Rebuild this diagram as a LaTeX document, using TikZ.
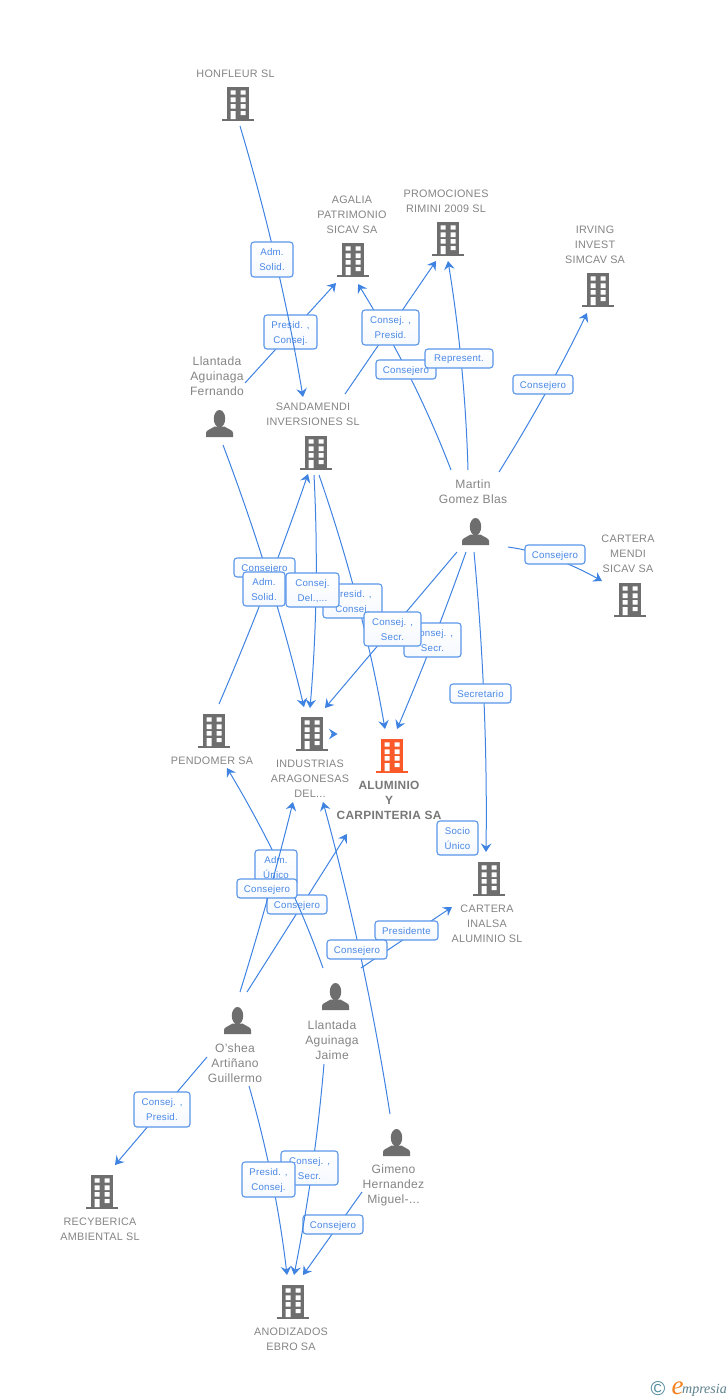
\documentclass[tikz,border=0pt]{standalone}
\usepackage{fontspec}
\setmainfont[LetterSpace=2.5]{Liberation Sans}
\newfontfamily\logofont{Liberation Serif}
\usetikzlibrary{arrows.meta,calc}
\definecolor{edgeblue}{HTML}{3F83E2}
\definecolor{boxblue}{HTML}{5A96EA}
\definecolor{labblue}{HTML}{4A88E6}
\definecolor{txtgrey}{HTML}{858585}
\definecolor{icongrey}{HTML}{6E6E6E}
\definecolor{mainorange}{HTML}{FA5A2A}
\definecolor{logoteal}{HTML}{4F8A9B}
\definecolor{logotext}{HTML}{5A7F8A}
\definecolor{logoorange}{HTML}{F58220}
\tikzset{
  edge/.style={draw=edgeblue,line width=1pt,-{Stealth[length=8.5pt,width=10.5pt,inset=3pt]}},
  lab/.style={draw=boxblue,line width=1.1pt,rounded corners=3pt,top color=white,bottom color=white!95!edgeblue,
    text=labblue,font=\fontsize{9.7}{15}\selectfont,align=center,inner sep=0pt,text depth=0pt},
  ent/.style={text=txtgrey,font=\fontsize{10.8}{15}\selectfont,align=center,inner sep=0pt,yshift=-0.8pt},
  perslab/.style={text=txtgrey,font=\fontsize{12.1}{15}\selectfont,align=center,inner sep=0pt,yshift=-0.8pt},
  entmain/.style={text=txtgrey!90!black,font=\fontsize{11.9}{15}\selectfont\bfseries,align=center,inner sep=0pt,yshift=-0.8pt},
  iconbox/.style={inner sep=0pt,minimum width=32pt,minimum height=34pt},
}
% #1 name, #2 left, #3 top, #4 right, #5 bottom, #6 text
\newcommand{\ebox}[6]{\node[lab,minimum width={(#4-#2)*1pt},minimum height={(#5-#3)*1pt}] (#1) at ({(#2+#4)/2},{(#3+#5)/2}) {#6};}
% curved connector: #1 start, #2 quadratic control, #3 end
\newcommand{\bowedge}[3]{\draw[edge] (#1) .. controls ($(#1)!.667!(#2)$) and ($(#3)!.667!(#2)$) .. (#3);}
% #1 name, #2 centre x, #3 top y, #4 colour
\newcommand{\building}[4]{%
  \node[iconbox] (#1) at (#2,#3+17) {};
  \begin{scope}[shift={(#2,#3)}]
    \fill[#4] (-11,0) rectangle (11,32.5);
    \fill[#4] (-16,32) rectangle (16,34);
    \fill[white] (-7.5,3.3) rectangle (-2.5,7.7) (2.5,3.3) rectangle (7.5,7.7)
      (-7.5,10.3) rectangle (-2.5,15) (2.5,10.3) rectangle (7.5,15)
      (-7.5,17) rectangle (-2.5,21.7) (2.5,17) rectangle (7.5,21.7)
      (-7.5,24) rectangle (-2.5,32) (2.5,24) rectangle (7.5,28);
  \end{scope}}
% #1 name, #2 centre x, #3 top y
\newcommand{\person}[3]{%
  \node[inner sep=0pt,minimum width=27pt,minimum height=27pt] (#1) at (#2,#3+13.5) {};
  \begin{scope}[shift={(#2,#3)}]
    \fill[icongrey] (0,8.7) ellipse (5.7 and 8.7);
    \fill[icongrey] (-13.5,27) -- (-13.5,23) .. controls (-13.5,20) and (-9,19.5) .. (-5,16.5)
      -- (5,16.5) .. controls (9,19.5) and (13.5,20) .. (13.5,23) -- (13.5,27) -- cycle;
  \end{scope}}
\begin{document}
\begin{tikzpicture}[x=1pt,y=-1pt]
\useasboundingbox (0,0) rectangle (728,1400);
\fill[white] (0,0) rectangle (728,1400);

% entity icons
\building{honfleur}{238}{87}{icongrey}
\building{agalia}{353}{243}{icongrey}
\building{promociones}{448}{222}{icongrey}
\building{irving}{598}{273}{icongrey}
\building{sandamendi}{316}{436}{icongrey}
\building{mendi}{630}{583}{icongrey}
\building{pendomer}{214}{714}{icongrey}
\building{industrias}{312}{717}{icongrey}
\building{aluminio}{392}{739}{mainorange}
\building{inalsa}{489}{862}{icongrey}
\building{recyberica}{102}{1175}{icongrey}
\building{anodizados}{293}{1285}{icongrey}
\person{fernando}{219.5}{410}
\person{martin}{475.5}{518}
\person{jaime}{335.5}{983}
\person{oshea}{237.5}{1007}
\person{gimeno}{396.5}{1129}

% entity labels
\node[ent] (honfleurT) at (235.5,73) {HONFLEUR SL};
\node[ent] (agaliaT) at (352,214) {AGALIA\\PATRIMONIO\\SICAV SA};
\node[ent] (promocionesT) at (446,200.5) {PROMOCIONES\\RIMINI 2009 SL};
\node[ent] (irvingT) at (595,244) {IRVING\\INVEST\\SIMCAV SA};
\node[perslab] (fernandoT) at (217,375) {Llantada\\Aguinaga\\Fernando};
\node[ent] (sandamendiT) at (313,413.5) {SANDAMENDI\\INVERSIONES SL};
\node[perslab] (martinT) at (473,490.5) {Martin\\Gomez Blas};
\node[ent] (mendiT) at (628,553) {CARTERA\\MENDI\\SICAV SA};
\node[ent] (pendomerT) at (212,760) {PENDOMER SA};
\node[ent] (industriasT) at (310,778) {INDUSTRIAS\\ARAGONESAS\\DEL...};
\node[entmain] (aluminioT) at (389,800) {ALUMINIO\\Y\\CARPINTERIA SA};
\node[ent] (inalsaT) at (487,923) {CARTERA\\INALSA\\ALUMINIO SL};
\node[perslab] (jaimeT) at (332,1039) {Llantada\\Aguinaga\\Jaime};
\node[perslab] (osheaT) at (235,1062) {O'shea\\Artiñano\\Guillermo};
\node[perslab] (gimenoT) at (393.5,1185) {Gimeno\\Hernandez\\Miguel-...};
\node[ent] (recybericaT) at (100,1228.5) {RECYBERICA\\AMBIENTAL SL};
\node[ent] (anodizadosT) at (291,1338.5) {ANODIZADOS\\EBRO SA};

% connector end points
\coordinate (honfleurOut) at (240,126);
\coordinate (sandamendiIn1) at (303,397);
\coordinate (fernandoOut1) at (245,383);
\coordinate (agaliaIn1) at (336,283);
\coordinate (sandamendiOut1) at (345,394);
\coordinate (promocionesIn1) at (436,261);
\coordinate (martinOut1) at (451,470);
\coordinate (agaliaIn2) at (358,284);
\coordinate (martinOut2) at (468,470);
\coordinate (promocionesIn2) at (448,261);
\coordinate (martinOut3) at (499,472);
\coordinate (irvingIn) at (587,313);
\coordinate (martinOut4) at (508,547);
\coordinate (mendiIn) at (602,581);
\coordinate (martinOut5) at (466,552);
\coordinate (aluminioIn1) at (397,729);
\coordinate (martinOut6) at (457,552);
\coordinate (industriasIn1) at (325,708);
\coordinate (martinOut7) at (474,552);
\coordinate (inalsaIn1) at (486,852);
\coordinate (sandamendiOut2) at (319,475);
\coordinate (aluminioIn2) at (385,729);
\coordinate (sandamendiOut3) at (314,475);
\coordinate (industriasIn2) at (310,708);
\coordinate (fernandoOut2) at (223,445);
\coordinate (industriasIn3) at (304,707);
\coordinate (pendomerOut) at (219,704);
\coordinate (sandamendiIn2) at (308,474);
\coordinate (jaimeOut1) at (323,968);
\coordinate (pendomerIn) at (227,768);
\coordinate (osheaOut1) at (240,992);
\coordinate (industriasIn4) at (293,802);
\coordinate (osheaOut2) at (247,992);
\coordinate (aluminioIn3) at (347,834);
\coordinate (gimenoOut1) at (390,1114);
\coordinate (industriasIn5) at (323,802);
\coordinate (jaimeOut2) at (361,968);
\coordinate (inalsaIn2) at (452,907);
\coordinate (osheaOut3) at (207,1057);
\coordinate (recybericaIn) at (115,1165);
\coordinate (osheaOut4) at (249,1086);
\coordinate (anodizadosIn1) at (287,1275);
\coordinate (jaimeOut3) at (324,1064);
\coordinate (anodizadosIn2) at (294,1275);
\coordinate (gimenoOut2) at (362,1192);
\coordinate (anodizadosIn3) at (303,1275);
\coordinate (selfA) at (331,734);
\coordinate (selfB) at (337.5,734);

% upper group
\draw[edge] (fernandoOut1) -- (agaliaIn1);
\ebox{lPresidA}{264}{315}{317}{349}{Presid. ,\\Consej.}
\bowedge{honfleurOut}{280,260}{sandamendiIn1}
\ebox{lAdmA}{251}{242}{293}{277}{Adm.\\Solid.}
\draw[edge] (sandamendiOut1) -- (promocionesIn1);
\bowedge{martinOut1}{415.5,377}{agaliaIn2}
\ebox{lConsPresid}{362}{310}{419}{345}{Consej. ,\\Presid.}
\ebox{lConsejeroA}{376}{360}{436}{379}{Consejero}
\bowedge{martinOut2}{465,365}{promocionesIn2}
\ebox{lRepresent}{425}{349}{493}{368}{Represent.}
\bowedge{martinOut3}{549,392}{irvingIn}
\ebox{lConsejeroB}{513}{375}{573}{394}{Consejero}
\bowedge{martinOut4}{552,553}{mendiIn}
\ebox{lConsejeroC}{525}{545}{585}{564}{Consejero}

% middle group
\bowedge{martinOut7}{488,702}{inalsaIn1}
\ebox{lSecretario}{450}{684}{511}{703}{Secretario}
\ebox{lSocio}{437}{821}{478}{855}{Socio\\Único}
\bowedge{sandamendiOut2}{363,602}{aluminioIn2}
\bowedge{sandamendiOut3}{320,591}{industriasIn2}
\bowedge{fernandoOut2}{272.5,576}{industriasIn3}
\bowedge{pendomerOut}{268.5,589}{sandamendiIn2}
\bowedge{martinOut5}{435,640}{aluminioIn1}
\draw[edge] (martinOut6) -- (industriasIn1);
\ebox{lConsejeroD}{234}{558}{295}{577}{Consejero}
\ebox{lAdmB}{243}{572}{285}{606}{Adm.\\Solid.}
\ebox{lPresidB}{323}{584}{382}{618}{Presid. ,\\Consej.}
\ebox{lConsDel}{286}{573}{339}{607}{Consej.\\Del.,...}
\ebox{lSecrB}{404}{623}{461}{657}{Consej. ,\\Secr.}
\ebox{lSecrA}{364}{612}{421}{646}{Consej. ,\\Secr.}
\draw[edge] (selfA) -- (selfB);

% lower group
\draw[edge] (osheaOut2) -- (aluminioIn3);
\ebox{lConsejeroE}{267}{895}{327}{914}{Consejero}
\bowedge{jaimeOut1}{287,868}{pendomerIn}
\ebox{lAdmC}{255}{850}{297}{885}{Adm.\\Único}
\bowedge{osheaOut1}{269.5,897}{industriasIn4}
\ebox{lConsejeroF}{237}{879}{297}{898}{Consejero}
\draw[edge] (jaimeOut2) -- (inalsaIn2);
\ebox{lPresidente}{375}{921}{438}{940}{Presidente}
\bowedge{gimenoOut1}{365.5,958}{industriasIn5}
\ebox{lConsejeroG}{327}{940}{387}{959}{Consejero}
\draw[edge] (osheaOut3) -- (recybericaIn);
\ebox{lConsPresidB}{134}{1092}{190}{1127}{Consej. ,\\Presid.}
\draw[edge] (gimenoOut2) -- (anodizadosIn3);
\ebox{lConsejeroH}{303}{1215}{363}{1234}{Consejero}
\bowedge{jaimeOut3}{315,1170}{anodizadosIn2}
\ebox{lSecrC}{281}{1151}{338}{1185}{Consej. ,\\Secr.}
\bowedge{osheaOut4}{276,1180}{anodizadosIn1}
\ebox{lPresidC}{242}{1162}{295}{1197}{Presid. ,\\Consej.}

% logo
\node[inner sep=0pt,text=logoteal,font=\fontsize{20}{20}\selectfont] (logoC) at (658,1388.5) {©};
\node[inner sep=0pt,text=logoorange,font=\logofont\itshape\fontsize{27}{27}\selectfont] (logoE) at (677.5,1388.5) {e};
\node[inner sep=0pt,anchor=base west,text=logotext,font=\logofont\itshape\fontsize{14}{14}\selectfont] (logoT) at (682,1393) {mpresia};
\end{tikzpicture}
\end{document}
